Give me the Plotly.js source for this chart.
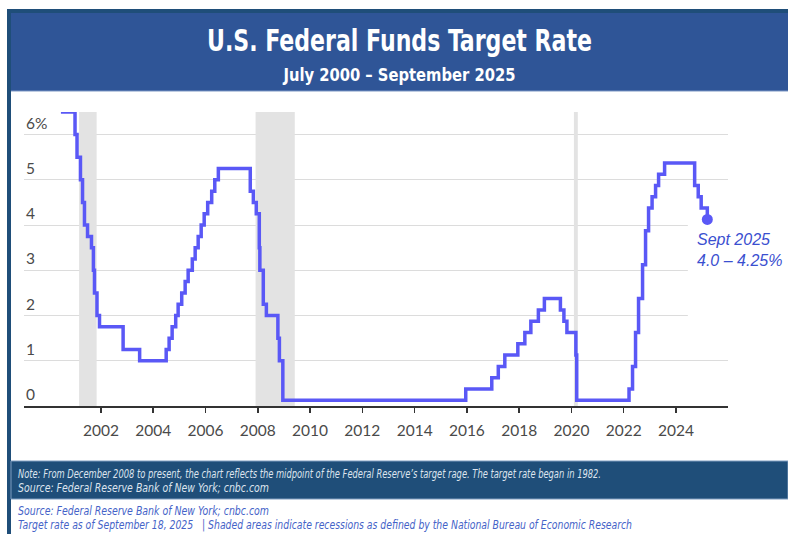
<!DOCTYPE html>
<html><head><meta charset="utf-8">
<script src="https://cdn.plot.ly/plotly-3.0.1.min.js"></script>
<style>html,body{margin:0;padding:0;background:#fff;} #chart{width:788px;height:534px;}</style>
</head><body><div id="chart"></div>
<script>
// ---- data ----
const rateDates = [
  '2000-06-20','2001-01-03','2001-01-31','2001-03-20','2001-04-18','2001-05-15','2001-06-27','2001-08-21',
  '2001-09-17','2001-10-02','2001-11-06','2001-12-11','2002-11-06','2003-06-25','2004-06-30','2004-08-10',
  '2004-09-21','2004-11-10','2004-12-14','2005-02-02','2005-03-22','2005-05-03','2005-06-30','2005-08-09',
  '2005-09-20','2005-11-01','2005-12-13','2006-01-31','2006-03-28','2006-05-10','2006-06-29','2007-09-18',
  '2007-10-31','2007-12-11','2008-01-22','2008-01-30','2008-03-18','2008-04-30','2008-10-08','2008-10-29',
  '2008-12-16','2015-12-16','2016-12-14','2017-03-15','2017-06-14','2017-12-13','2018-03-21','2018-06-13',
  '2018-09-26','2018-12-19','2019-07-31','2019-09-18','2019-10-30','2020-03-03','2020-03-15','2022-03-16',
  '2022-05-04','2022-06-15','2022-07-27','2022-09-21','2022-11-02','2022-12-14','2023-02-01','2023-03-22',
  '2023-05-03','2023-07-26','2024-09-18','2024-11-07','2024-12-18','2025-03-14'
];
const rateValues = [
  6.5, 6.0, 5.5, 5.0, 4.5, 4.0, 3.75, 3.5,
  3.0, 2.5, 2.0, 1.75, 1.25, 1.0, 1.25, 1.5,
  1.75, 2.0, 2.25, 2.5, 2.75, 3.0, 3.25, 3.5,
  3.75, 4.0, 4.25, 4.5, 4.75, 5.0, 5.25, 4.75,
  4.5, 4.25, 3.5, 3.0, 2.25, 2.0, 1.5, 1.0,
  0.125, 0.375, 0.625, 0.875, 1.125, 1.375, 1.625, 1.875,
  2.125, 2.375, 2.125, 1.875, 1.625, 1.125, 0.125, 0.375,
  0.875, 1.625, 2.375, 3.125, 3.875, 4.375, 4.625, 4.875,
  5.125, 5.375, 4.875, 4.625, 4.375, 4.125
];
const recessionStarts = ['2001-03-01','2007-12-01','2020-02-05'];
const recessionEnds   = ['2001-11-01','2009-06-01','2020-03-30'];
const xTickVals = ['2002-01-01','2004-01-01','2006-01-01','2008-01-01','2010-01-01','2012-01-01','2014-01-01','2016-01-01','2018-01-01','2020-01-01','2022-01-01','2024-01-01'];
const xTickText = ['2002','2004','2006','2008','2010','2012','2014','2016','2018','2020','2022','2024'];
const yTickVals = [0,1,2,3,4,5,6];
const yTickText = ['0','1','2','3','4','5','6%'];
const titleText = 'U.S. Federal Funds Target Rate';
const subtitleText = 'July 2000 – September 2025';
const calloutLines = ['Sept 2025','4.0 – 4.25%'];
const noteLines = [
  'Note: From December 2008 to present, the chart reflects the midpoint of the Federal Reserve’s target rage. The target rate began in 1982.',
  'Source: Federal Reserve Bank of New York; cnbc.com'
];
const footerLines = [
  'Source: Federal Reserve Bank of New York; cnbc.com',
  'Target rate as of September 18, 2025\u00a0\u00a0 | Shaded areas indicate recessions as defined by the National Bureau of Economic Research'
];

// ---- layout geometry ----
const W = 788, H = 534, L = 24, R = 60, T = 112, B = 128;
const PW = W - L - R, PH = H - T - B;
const px = v => (v - L) / PW;
const py = v => (H - B - v) / PH;

const NARROW = '"Liberation Sans Narrow", "Arial Narrow", "DejaVu Sans Condensed", sans-serif';
const LINE_COLOR = '#5a58f6';
const DARK = '#1f4e79';

const shapes = [];
shapes.push({type:'rect', xref:'paper', yref:'paper', x0:px(7), x1:px(788), y0:py(13), y1:py(9), fillcolor:DARK, line:{width:0}, layer:'below'});
shapes.push({type:'rect', xref:'paper', yref:'paper', x0:px(11), x1:px(788), y0:py(91), y1:py(13), fillcolor:'#2f5597', line:{width:0}, layer:'below'});
shapes.push({type:'line', xref:'paper', yref:'paper', x0:px(11), x1:px(788), y0:py(91), y1:py(91), line:{color:'#7d97c4', width:1}, layer:'below'});
shapes.push({type:'rect', xref:'paper', yref:'paper', x0:px(7), x1:px(11), y0:py(534), y1:py(9), fillcolor:DARK, line:{width:0}, layer:'below'});
shapes.push({type:'rect', xref:'paper', yref:'paper', x0:px(11), x1:px(788), y0:py(499), y1:py(461), fillcolor:DARK, line:{color:'#7f9cc0', width:1}, layer:'below'});
recessionStarts.forEach((s, i) => {
  shapes.push({type:'rect', xref:'x', yref:'y', x0:s, x1:recessionEnds[i], y0:0, y1:6.5, fillcolor:'#e3e3e3', line:{width:0}, layer:'between'});
});
shapes.push({type:'rect', xref:'x', yref:'y', x0:'2024-06-15', x1:'2026-01-01', y0:1.9, y1:4.05, fillcolor:'#ffffff', line:{width:0}, layer:'between'});

const annotations = [];
yTickVals.forEach((v, i) => {
  annotations.push({xref:'paper', yref:'y', x:0, y:v, xanchor:'left', yanchor:'bottom', yshift:1, showarrow:false,
    text:yTickText[i], font:{family:'Lato, sans-serif', size:15.5, color:'#4a4a4a'}});
});
annotations.push({xref:'paper', yref:'paper', x:px(399.5), y:py(74.5), xanchor:'center', yanchor:'middle', showarrow:false,
  text:subtitleText, font:{family:NARROW, size:18, weight:'bold', color:'#ffffff'}});
const n = rateDates.length;
annotations.push({xref:'x', yref:'y', x:rateDates[n-1], y:rateValues[n-1], xanchor:'left', yanchor:'top', xshift:-12, yshift:-10,
  showarrow:false, align:'left', text:calloutLines.join('<br>'),
  font:{family:'Liberation Sans, Arial, sans-serif', size:16, color:'#3a4fd0', style:'italic'}});
noteLines.forEach((t, i) => {
  annotations.push({xref:'paper', yref:'paper', x:px(17), y:py(473.5 + i*14.5), xanchor:'left', yanchor:'middle', showarrow:false,
    text:t, font:{family:NARROW, size:11.5, color:'#dde4ee', style:'italic'}});
});
footerLines.forEach((t, i) => {
  annotations.push({xref:'paper', yref:'paper', x:px(17), y:py(511 + i*14), xanchor:'left', yanchor:'middle', showarrow:false,
    text:t, font:{family:NARROW, size:11.5, color:'#4563c8', style:'italic'}});
});

const traces = [
  {type:'scatter', mode:'lines', x:rateDates, y:rateValues, line:{shape:'hv', color:LINE_COLOR, width:3.5}, hoverinfo:'skip'},
  {type:'scatter', mode:'markers', x:[rateDates[n-1]], y:[rateValues[n-1]], marker:{size:11, color:LINE_COLOR}, hoverinfo:'skip'}
];

const layout = {
  width:W, height:H, margin:{l:L, r:R, t:T, b:B}, showlegend:false,
  paper_bgcolor:'#ffffff', plot_bgcolor:'rgba(0,0,0,0)',
  title:{text:titleText, xref:'container', yref:'container', x:399.5/W, y:1 - 40/H, xanchor:'center', yanchor:'middle',
    font:{family:NARROW, size:31, weight:'bold', color:'#ffffff'}},
  xaxis:{type:'date', range:['1999-01-21','2025-12-28'], tickvals:xTickVals, ticktext:xTickText, showgrid:false, zeroline:false,
    showline:true, linecolor:'#333333', linewidth:1.5, ticks:'outside', ticklen:5, tickwidth:1.5, tickcolor:'#333333',
    ticklabelstandoff:5, tickfont:{family:'Lato, sans-serif', size:15.5, color:'#4a4a4a'}, fixedrange:true},
  yaxis:{range:[0,6.5], tickvals:yTickVals, showticklabels:false, showgrid:true, gridcolor:'#dcdcdc', gridwidth:1, zeroline:false,
    showline:false, ticks:'', fixedrange:true},
  shapes:shapes, annotations:annotations
};

// target rendered widths (px) of the condensed texts, as measured on the reference; leftX = fixed left edge (null = keep centre)
const fitWidths = [
  [titleText, 385, null], [subtitleText, 232, null],
  [noteLines[0], 583, 18], [noteLines[1], 252, 18],
  [footerLines[0], 251, 18], [footerLines[1], 614, 18]
];
const norm = s => s.replace(/\s+/g,' ').trim();
Plotly.newPlot('chart', traces, layout, {displayModeBar:false, staticPlot:true}).then(() => {
  const svg = document.querySelector('#chart svg.main-svg');
  const texts = document.querySelectorAll('#chart text');
  fitWidths.forEach(([s, w, leftX]) => {
    texts.forEach(t => {
      if (norm(t.textContent) === norm(s)) {
        t.setAttribute('textLength', w);
        t.setAttribute('lengthAdjust', 'spacingAndGlyphs');
        if (leftX !== null) {
          // move centre so the left edge lands at leftX (page pixels)
          const bb = t.getBoundingClientRect();
          const dx = leftX - bb.left;
          t.setAttribute('x', parseFloat(t.getAttribute('x') || 0) + dx);
        }
      }
    });
  });
});
</script></body></html>
